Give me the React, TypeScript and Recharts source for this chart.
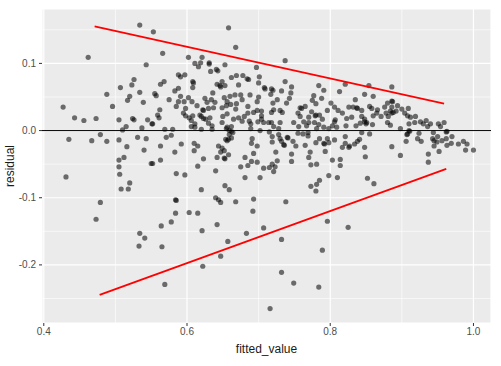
import { ScatterChart, Scatter, XAxis, YAxis, CartesianGrid, ReferenceLine } from 'recharts'

// axis setup (ggplot-like: major + minor grid)
const X_DOMAIN = [0.3975, 1.0245]
const Y_DOMAIN = [-0.2865, 0.181]
const X_TICKS = [0.4, 0.6, 0.8, 1.0]
const X_MINOR = [0.5, 0.7, 0.9]
const Y_TICKS = [-0.2, -0.1, 0, 0.1]
const Y_MINOR = [-0.25, -0.15, -0.05, 0.05, 0.15]

// hand-drawn envelope lines
const upperBound = [[0.471, 0.155], [0.959, 0.04]]
const lowerBound = [[0.478, -0.2445], [0.962, -0.057]]

// [fitted_value, residual]
const upperPoints = [
  [0.534, 0.157], [0.553, 0.147], [0.462, 0.109], [0.543, 0.098], [0.526, 0.076], [0.523, 0.068], [0.507, 0.064],
  [0.534, 0.057], [0.488, 0.054], [0.52, 0.051], [0.517, 0.045], [0.539, 0.042], [0.496, 0.036], [0.427, 0.035],
  [0.658, 0.153], [0.566, 0.115], [0.668, 0.124], [0.602, 0.109], [0.621, 0.109], [0.611, 0.1], [0.619, 0.101],
  [0.616, 0.095], [0.631, 0.101], [0.631, 0.099], [0.653, 0.098], [0.633, 0.088], [0.641, 0.091], [0.643, 0.089],
  [0.697, 0.094], [0.588, 0.083], [0.591, 0.08], [0.597, 0.083], [0.662, 0.079], [0.669, 0.082], [0.678, 0.082],
  [0.684, 0.077], [0.686, 0.076], [0.701, 0.08], [0.568, 0.073], [0.563, 0.069], [0.608, 0.073], [0.609, 0.071],
  [0.649, 0.073], [0.642, 0.069], [0.646, 0.067], [0.647, 0.065], [0.653, 0.067], [0.672, 0.068], [0.7, 0.071],
  [0.588, 0.063], [0.583, 0.059], [0.608, 0.064], [0.708, 0.064], [0.709, 0.062], [0.555, 0.055], [0.557, 0.052],
  [0.636, 0.056], [0.591, 0.051], [0.575, 0.046], [0.602, 0.049], [0.625, 0.048], [0.634, 0.046], [0.652, 0.049],
  [0.66, 0.051], [0.667, 0.053], [0.675, 0.053], [0.688, 0.053], [0.7, 0.05], [0.588, 0.043], [0.596, 0.043],
  [0.607, 0.043], [0.614, 0.037], [0.628, 0.042], [0.639, 0.042], [0.656, 0.043], [0.661, 0.039], [0.669, 0.04],
  [0.677, 0.046], [0.685, 0.036], [0.698, 0.043], [0.585, 0.036], [0.562, 0.031], [0.598, 0.033], [0.622, 0.031],
  [0.623, 0.03], [0.63, 0.033], [0.637, 0.034], [0.649, 0.034], [0.655, 0.037], [0.668, 0.032], [0.698, 0.03],
  [0.704, 0.029], [0.737, 0.104], [0.737, 0.073], [0.746, 0.065], [0.784, 0.067], [0.791, 0.06], [0.821, 0.069],
  [0.813, 0.058], [0.854, 0.067], [0.848, 0.054], [0.86, 0.051], [0.718, 0.062], [0.72, 0.06], [0.732, 0.059],
  [0.745, 0.056], [0.717, 0.054], [0.726, 0.046], [0.743, 0.048], [0.72, 0.041], [0.739, 0.041], [0.777, 0.052],
  [0.788, 0.048], [0.775, 0.045], [0.78, 0.04], [0.765, 0.036], [0.758, 0.034], [0.76, 0.033], [0.801, 0.041],
  [0.806, 0.035], [0.835, 0.046], [0.826, 0.035], [0.832, 0.035], [0.837, 0.034], [0.838, 0.033], [0.855, 0.036],
  [0.858, 0.033], [0.721, 0.031], [0.73, 0.03], [0.796, 0.03], [0.811, 0.03], [0.844, 0.03], [0.866, 0.031],
  [0.886, 0.065], [0.88, 0.041], [0.886, 0.044], [0.887, 0.043], [0.876, 0.035], [0.886, 0.035], [0.894, 0.037],
  [0.9, 0.032], [0.909, 0.033], [0.884, 0.029], [0.892, 0.029],
]

const leftPoints = [
  [0.443, 0.019], [0.456, 0.015], [0.473, 0.018], [0.505, 0.016], [0.524, 0.018], [0.526, 0.016], [0.545, 0.016],
  [0.551, 0.01], [0.515, 0.006], [0.51, 0.001], [0.537, 0.004], [0.435, -0.013], [0.479, -0.006], [0.467, -0.015],
  [0.488, -0.016], [0.505, -0.014], [0.531, -0.01], [0.543, -0.012], [0.516, -0.024], [0.54, -0.029], [0.512, -0.04],
  [0.505, -0.044], [0.55, -0.049], [0.505, -0.054], [0.506, -0.065], [0.431, -0.069], [0.52, -0.078], [0.508, -0.087],
  [0.518, -0.087], [0.479, -0.107], [0.559, 0.023], [0.561, 0.019], [0.595, 0.026], [0.598, 0.022], [0.603, 0.019],
  [0.608, 0.022], [0.618, 0.023], [0.62, 0.021], [0.623, 0.018], [0.626, 0.017], [0.632, 0.019], [0.65, 0.021],
  [0.656, 0.025], [0.665, 0.017], [0.672, 0.019], [0.68, 0.021], [0.685, 0.026], [0.693, 0.027], [0.677, 0.014],
  [0.687, 0.014], [0.689, 0.01], [0.699, 0.013], [0.704, 0.017], [0.707, 0.012], [0.704, 0.022], [0.606, 0.015],
  [0.611, 0.01], [0.63, 0.011], [0.635, 0.007], [0.649, 0.012], [0.656, 0.005], [0.662, 0.006], [0.552, 0.01],
  [0.569, 0.002], [0.58, 0.002], [0.606, 0.006], [0.611, 0.005], [0.62, 0.002], [0.635, 0.002], [0.655, 0.003],
  [0.659, 0.0], [0.664, -0.003], [0.662, -0.001], [0.689, 0.003], [0.702, 0.0], [0.578, -0.007], [0.571, -0.01],
  [0.659, -0.006], [0.662, -0.011], [0.658, -0.013], [0.656, -0.015], [0.654, -0.013], [0.691, -0.012], [0.69, -0.019],
  [0.698, -0.023], [0.563, -0.023], [0.592, -0.02], [0.61, -0.019], [0.615, -0.023], [0.61, -0.03], [0.644, -0.023],
  [0.649, -0.026], [0.652, -0.03], [0.647, -0.032], [0.658, -0.036], [0.652, -0.041], [0.653, -0.042], [0.642, -0.04],
  [0.583, -0.032], [0.623, -0.042], [0.563, -0.044], [0.552, -0.049], [0.615, -0.053], [0.681, -0.04], [0.69, -0.046],
  [0.685, -0.052], [0.698, -0.047], [0.693, -0.034], [0.707, -0.056], [0.675, -0.054], [0.64, -0.06], [0.585, -0.064],
  [0.597, -0.066], [0.681, -0.07], [0.702, -0.07], [0.653, -0.082], [0.659, -0.088], [0.62, -0.088], [0.584, -0.103],
  [0.585, -0.104], [0.64, -0.1], [0.644, -0.103], [0.647, -0.107], [0.668, -0.106], [0.693, -0.102], [0.584, -0.123],
  [0.603, -0.122], [0.615, -0.123], [0.692, -0.12],
]

const rightPoints = [
  [0.718, 0.027], [0.733, 0.027], [0.755, 0.026], [0.758, 0.021], [0.77, 0.02], [0.774, 0.028], [0.779, 0.022],
  [0.78, 0.023], [0.785, 0.023], [0.789, 0.017], [0.807, 0.016], [0.806, 0.013], [0.817, 0.026], [0.823, 0.018],
  [0.83, 0.02], [0.844, 0.021], [0.848, 0.017], [0.851, 0.012], [0.86, 0.022], [0.865, 0.026], [0.714, 0.012],
  [0.718, 0.012], [0.73, 0.012], [0.721, 0.006], [0.728, 0.003], [0.749, 0.012], [0.756, 0.006], [0.763, 0.013],
  [0.767, 0.007], [0.77, 0.012], [0.778, 0.012], [0.784, 0.009], [0.781, 0.003], [0.791, 0.005], [0.798, 0.003],
  [0.803, 0.007], [0.809, 0.005], [0.822, 0.007], [0.836, 0.007], [0.842, 0.011], [0.848, 0.013], [0.85, 0.01],
  [0.859, 0.009], [0.715, -0.002], [0.719, -0.009], [0.728, -0.006], [0.73, -0.012], [0.732, -0.016], [0.735, -0.021],
  [0.736, -0.022], [0.719, -0.017], [0.74, -0.01], [0.741, -0.011], [0.748, -0.016], [0.752, -0.023], [0.755, -0.004],
  [0.762, -0.005], [0.765, -0.022], [0.769, -0.008], [0.769, -0.003], [0.78, -0.018], [0.785, -0.012], [0.791, -0.019],
  [0.792, -0.02], [0.796, -0.012], [0.798, -0.018], [0.806, -0.014], [0.817, -0.025], [0.821, -0.009], [0.821, -0.019],
  [0.826, -0.025], [0.827, -0.023], [0.834, -0.02], [0.838, -0.016], [0.841, -0.013], [0.844, -0.003], [0.848, -0.025],
  [0.855, -0.005], [0.724, -0.032], [0.746, -0.035], [0.772, -0.032], [0.77, -0.04], [0.793, -0.031], [0.719, -0.05],
  [0.723, -0.054], [0.726, -0.045], [0.715, -0.055], [0.721, -0.061], [0.746, -0.046], [0.773, -0.051], [0.781, -0.05],
  [0.803, -0.044], [0.814, -0.043], [0.814, -0.052], [0.849, -0.039], [0.798, -0.067], [0.81, -0.07], [0.785, -0.074],
  [0.781, -0.08], [0.773, -0.083], [0.78, -0.09], [0.852, -0.071], [0.861, -0.079], [0.738, -0.106], [0.871, 0.021],
  [0.881, 0.021], [0.878, 0.026], [0.886, 0.026], [0.888, 0.027], [0.88, 0.012], [0.884, 0.008], [0.904, 0.026],
  [0.908, 0.022], [0.912, 0.02], [0.919, 0.021], [0.91, 0.01], [0.918, 0.012], [0.926, 0.013], [0.934, 0.015],
  [0.93, 0.01], [0.936, 0.006], [0.94, 0.01], [0.951, 0.01], [0.954, 0.006], [0.959, 0.012], [0.898, 0.003],
  [0.91, 0.0], [0.911, -0.001], [0.944, -0.003], [0.962, -0.002], [0.963, -0.001], [0.907, -0.006], [0.908, -0.005],
  [0.906, -0.016], [0.924, -0.004], [0.922, -0.012], [0.927, -0.016], [0.943, -0.012], [0.95, -0.009], [0.945, -0.015],
  [0.949, -0.017], [0.956, -0.015], [0.962, -0.012], [0.97, -0.009], [0.945, -0.023], [0.952, -0.031], [0.963, -0.022],
  [0.969, -0.019], [0.979, -0.02], [0.986, -0.016], [0.991, -0.02], [0.989, -0.029], [1.0, -0.029], [0.886, -0.024],
  [0.898, -0.037], [0.937, -0.035], [0.937, -0.047],
]

const tailPoints = [
  [0.473, -0.132], [0.534, -0.153], [0.541, -0.16], [0.533, -0.172], [0.564, -0.142], [0.578, -0.136], [0.621, -0.149],
  [0.642, -0.14], [0.683, -0.153], [0.707, -0.145], [0.565, -0.173], [0.657, -0.165], [0.647, -0.187], [0.622, -0.202],
  [0.569, -0.229], [0.796, -0.135], [0.825, -0.144], [0.732, -0.162], [0.789, -0.178], [0.732, -0.211], [0.749, -0.227],
  [0.784, -0.233], [0.716, -0.265],
]

const toXY = (arr: number[][]) => arr.map(([x, y]) => ({ x, y }))
const points = toXY([...upperPoints, ...leftPoints, ...rightPoints, ...tailPoints])

const FONT = '"Liberation Sans", Arial, sans-serif'
const tickStyle = { fontSize: 10, fill: '#4d4d4d', fontFamily: FONT }

// eslint-disable-next-line @typescript-eslint/no-explicit-any
function Dot(props: any) {
  return <circle cx={props.cx} cy={props.cy} r={2.6} fill="#000" fillOpacity={0.55} />
}

// eslint-disable-next-line @typescript-eslint/no-explicit-any
function YTitle(props: any) {
  const vb = props.viewBox || { x: 0, y: 0, height: 0 }
  const cx = vb.x + 10
  const cy = vb.y + vb.height / 2
  return (
    <text x={cx} y={cy} transform={`rotate(-90 ${cx} ${cy})`} textAnchor="middle" dominantBaseline="central"
      fontSize={12} fill="#1a1a1a" fontFamily={FONT}>
      residual
    </text>
  )
}

export default function App() {
  return (
    <div style={{ position: 'absolute', left: 0, top: 0, background: '#fff' }}>
      <ScatterChart width={501} height={366} margin={{ top: 9, right: 10, bottom: 0, left: 0 }}>
        <CartesianGrid stroke="#fff" strokeWidth={1.2} fill="#ebebeb" fillOpacity={1} />
        {X_MINOR.map((v) => (
          <ReferenceLine key={'x' + v} x={v} stroke="#fff" strokeWidth={0.6} />
        ))}
        {Y_MINOR.map((v) => (
          <ReferenceLine key={'y' + v} y={v} stroke="#fff" strokeWidth={0.6} />
        ))}
        <XAxis
          type="number" dataKey="x" domain={X_DOMAIN} ticks={X_TICKS} allowDataOverflow
          tickFormatter={(v: number) => v.toFixed(1)} tick={tickStyle} tickSize={3} tickMargin={2}
          tickLine={{ stroke: '#333' }} axisLine={false} height={43}
          label={{ value: 'fitted_value', position: 'insideBottom', offset: 13, fontSize: 12, fill: '#1a1a1a', fontFamily: FONT }}
        />
        <YAxis
          type="number" dataKey="y" domain={Y_DOMAIN} ticks={Y_TICKS} allowDataOverflow
          tickFormatter={(v: number) => v.toFixed(1)} tick={tickStyle} tickSize={3} tickMargin={3}
          tickLine={{ stroke: '#333' }} axisLine={false} width={42}
          label={{ content: YTitle }}
        />
        <Scatter data={points} shape={Dot} isAnimationActive={false} />
        <ReferenceLine y={0} stroke="#000" strokeWidth={1} />
        <Scatter data={toXY(upperBound)} line={{ stroke: '#ff0000', strokeWidth: 1.8 }} shape={() => <g />} isAnimationActive={false} />
        <Scatter data={toXY(lowerBound)} line={{ stroke: '#ff0000', strokeWidth: 1.8 }} shape={() => <g />} isAnimationActive={false} />
      </ScatterChart>
    </div>
  )
}
